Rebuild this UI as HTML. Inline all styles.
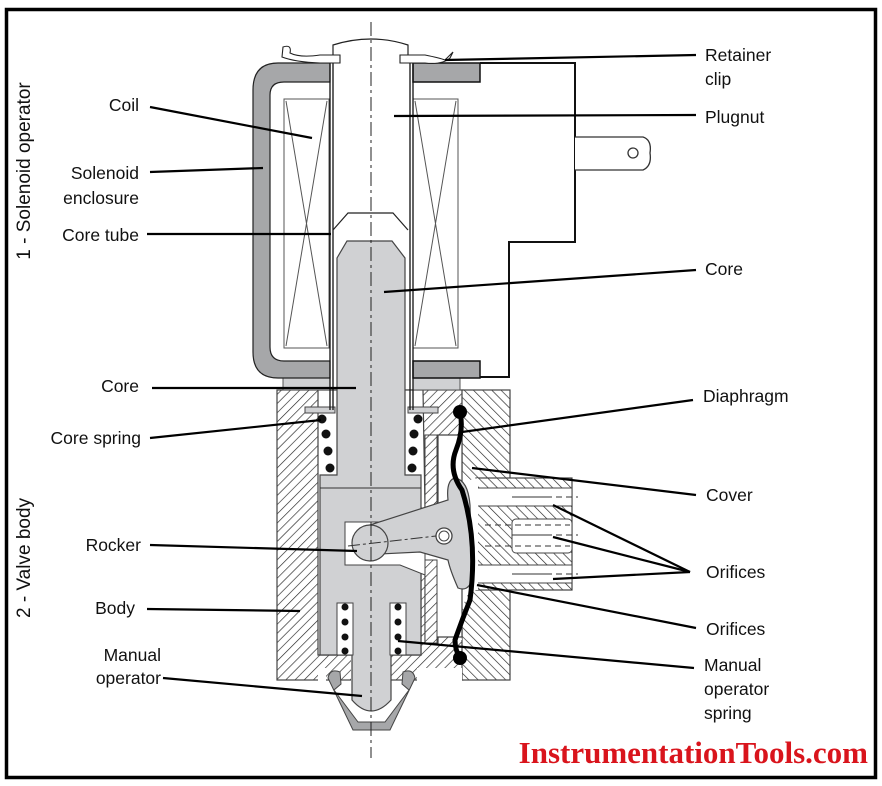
<!DOCTYPE html>
<html><head><meta charset="utf-8"><style>
html,body{margin:0;padding:0;background:#fff}
svg{display:block}
text{font-family:"Liberation Sans",Arial,sans-serif;font-size:17.5px;fill:#111}
</style></head><body>
<svg width="882" height="786" viewBox="0 0 882 786" xmlns="http://www.w3.org/2000/svg">
<defs>
<pattern id="h" patternUnits="userSpaceOnUse" width="6.5" height="6.5" patternTransform="rotate(45)">
<rect width="7" height="7" fill="#fff"/><line x1="0" y1="0" x2="0" y2="7" stroke="#222" stroke-width="1.3"/>
</pattern>
<pattern id="h2" patternUnits="userSpaceOnUse" width="6.5" height="6.5" patternTransform="rotate(-45)">
<rect width="7" height="7" fill="#fff"/><line x1="0" y1="0" x2="0" y2="7" stroke="#222" stroke-width="1.3"/>
</pattern>
</defs>
<rect x="0" y="0" width="882" height="786" fill="#fff"/>
<rect x="6.5" y="9.5" width="869" height="768" fill="none" stroke="#000" stroke-width="3.5"/>

<rect x="277" y="390" width="186" height="290" fill="url(#h)" stroke="#444" stroke-width="1.2"/>
<rect x="462" y="390" width="48" height="290" fill="url(#h2)" stroke="#444" stroke-width="1.2"/>
<rect x="476" y="478" width="96" height="112" fill="url(#h2)" stroke="#444" stroke-width="1.2"/>
<rect x="476" y="488" width="96" height="18" fill="#fff" stroke="#444"/>
<rect x="512" y="519" width="60" height="34" rx="4" fill="#fff" stroke="#444"/>
<rect x="476" y="565" width="96" height="18" fill="#fff" stroke="#444"/>
<g stroke="#333" stroke-width="1">
<line x1="512" y1="497" x2="552" y2="497"/><line x1="556" y1="497" x2="578" y2="497" stroke-dasharray="6 4"/>
<line x1="512" y1="535" x2="552" y2="535"/><line x1="556" y1="535" x2="578" y2="535" stroke-dasharray="6 4"/>
<line x1="512" y1="574" x2="552" y2="574"/><line x1="556" y1="574" x2="578" y2="574" stroke-dasharray="6 4"/>
<line x1="485" y1="525" x2="570" y2="525" stroke-dasharray="6 4"/>
<line x1="485" y1="546" x2="570" y2="546" stroke-dasharray="6 4"/>
</g>
<path d="M462 440 Q455 470 470 480 L478 478 L478 590 L470 590 Q458 610 462 640 L458 640 L458 440 Z" fill="#fff"/>
<path d="M318 390 L318 655 L421 655 L421 560 L425 560 L425 643 L438 643 L438 637 L462 637 L462 435 L438 435 L438 508 L425 508 L423 390 Z" fill="#fff" stroke="#444" stroke-width="1.2"/>
<rect x="425" y="435" width="12" height="73" fill="url(#h)" stroke="#444"/>
<rect x="425" y="560" width="12" height="83" fill="url(#h)" stroke="#444"/>
<rect x="351" y="655" width="40" height="26" fill="#fff"/>
<rect x="318" y="668" width="8" height="13" fill="#fff"/>
<rect x="417" y="668" width="45" height="13" fill="#fff"/>
<rect x="305" y="407" width="30" height="6" fill="#d0d1d3" stroke="#444"/>
<rect x="408" y="407" width="30" height="6" fill="#d0d1d3" stroke="#444"/>

<rect x="283" y="377" width="47" height="13" fill="#d0d1d3" stroke="#555"/>
<rect x="413" y="377" width="47" height="13" fill="#d0d1d3" stroke="#555"/>

<path d="M330 63 L278 63 Q253 63 253 90 L253 352 Q253 378 278 378 L330 378 L330 361 L284 361 Q270 361 270 347 L270 95 Q270 82 284 82 L330 82 Z" fill="#a6a7a9" stroke="#222" stroke-width="1.2"/>
<rect x="413" y="63" width="67" height="19" fill="#a6a7a9" stroke="#111" stroke-width="1.5"/>
<rect x="413" y="361" width="67" height="17" fill="#a6a7a9" stroke="#111" stroke-width="1.5"/>
<path d="M480 63 L575 63 L575 242 L509 242 L509 377 L480 377" fill="none" stroke="#111" stroke-width="2"/>
<path d="M575 137 L643 137 Q652 140 650 153 Q652 166 643 170 L575 170" fill="#fff" stroke="#333" stroke-width="1.3"/>
<circle cx="633" cy="153" r="5" fill="#fff" stroke="#333" stroke-width="1.3"/>

<g stroke="#555" stroke-width="1" fill="none">
<rect x="284" y="99" width="45" height="249"/>
<rect x="413" y="99" width="45" height="249"/>
<line x1="286" y1="101" x2="327" y2="346"/><line x1="327" y1="101" x2="286" y2="346"/>
<line x1="415" y1="101" x2="456" y2="346"/><line x1="456" y1="101" x2="415" y2="346"/>
</g>
<g stroke="#111" stroke-width="1.3">
<line x1="330" y1="63" x2="330" y2="410"/><line x1="333" y1="63" x2="333" y2="410"/>
<line x1="410" y1="63" x2="410" y2="410"/><line x1="413" y1="63" x2="413" y2="410"/>
</g>
<path d="M333 63 L333 45 Q371 33 408 45 L408 63" fill="#fff" stroke="#222" stroke-width="1.2"/>
<path d="M333 230 L348 213 L393 213 L408 230" fill="none" stroke="#222" stroke-width="1.2"/>
<path d="M283 47 Q292 44 290 53 Q300 58 320 55 L340 55 L340 63 L320 63 Q295 62 282 57 Z" fill="#fff" stroke="#222" stroke-width="1.1"/>
<path d="M400 55 L425 55 Q440 58 445 60 Q450 55 453 52 L450 58 Q442 65 425 63 L400 63 Z" fill="#fff" stroke="#222" stroke-width="1.1"/>

<path d="M337 258 L347 241 L392 241 L405 258 L405 475 L421 475 L421 655 L391 655 L391 700 Q371 722 352 700 L352 655 L320 655 L320 475 L337 475 Z" fill="#d0d1d3" stroke="#444" stroke-width="1.2"/>
<line x1="320" y1="488" x2="421" y2="488" stroke="#333"/>
<path d="M345 522 L421 522 L421 508 L425 508 L425 575 L400 565 L345 565 Z" fill="#fff" stroke="#444"/>
<rect x="337" y="603" width="16" height="52" fill="#fff" stroke="#444"/>
<rect x="390" y="603" width="16" height="52" fill="#fff" stroke="#444"/>
<path d="M370 525 L448 500 Q446 480 455 478 Q468 480 470 505 L472 580 Q468 592 458 588 Q450 570 448 560 L420 552 L380 554 Z" fill="#d0d1d3" stroke="#444" stroke-width="1.2"/>
<circle cx="370" cy="543" r="18" fill="#d0d1d3" stroke="#444" stroke-width="1.2"/>
<circle cx="444" cy="536" r="8" fill="#fff" stroke="#444" stroke-width="1.3"/>
<circle cx="444" cy="536" r="5" fill="#fff" stroke="#444"/>
<line x1="348" y1="546" x2="436" y2="536" stroke="#333" stroke-dasharray="12 3 3 3"/>
<g fill="#111">
<circle cx="322" cy="419" r="4.5"/><circle cx="326" cy="434" r="4.5"/><circle cx="328" cy="451" r="4.5"/><circle cx="330" cy="468" r="4.5"/>
<circle cx="418" cy="419" r="4.5"/><circle cx="414" cy="434" r="4.5"/><circle cx="413" cy="451" r="4.5"/><circle cx="412" cy="468" r="4.5"/>
<circle cx="345" cy="607" r="3.5"/><circle cx="345" cy="622" r="3.5"/><circle cx="345" cy="637" r="3.5"/><circle cx="345" cy="651" r="3.5"/>
<circle cx="398" cy="607" r="3.5"/><circle cx="398" cy="622" r="3.5"/><circle cx="398" cy="637" r="3.5"/><circle cx="398" cy="651" r="3.5"/>
</g>
<path d="M328 678 Q330 668 340 672 L341 684 L334 690 L358 722 L385 722 L409 690 L402 684 L403 672 Q413 668 415 678 L390 730 L353 730 Z" fill="#a6a7a9" stroke="#444"/>
<path d="M460 412 Q464 430 456 450 Q448 470 462 490 Q478 540 470 600 Q462 620 455 640 Q455 650 460 658" fill="none" stroke="#000" stroke-width="5" stroke-linecap="round"/>
<circle cx="460" cy="412" r="7" fill="#000"/><circle cx="460" cy="658" r="7" fill="#000"/>

<line x1="371" y1="22" x2="371" y2="758" stroke="#222" stroke-width="1" stroke-dasharray="14 4 3 4"/>

<g stroke="#000" stroke-width="2.2">
<line x1="150" y1="107" x2="312" y2="138"/>
<line x1="150" y1="172" x2="263" y2="168"/>
<line x1="147" y1="234" x2="331" y2="234"/>
<line x1="152" y1="388" x2="356" y2="388"/>
<line x1="150" y1="438" x2="321" y2="420"/>
<line x1="150" y1="545" x2="357" y2="551"/>
<line x1="147" y1="609" x2="300" y2="611"/>
<line x1="163" y1="678" x2="362" y2="696"/>
<line x1="696" y1="55" x2="445" y2="60"/>
<line x1="696" y1="115" x2="394" y2="116"/>
<line x1="696" y1="270" x2="384" y2="292"/>
<line x1="693" y1="400" x2="462" y2="432"/>
<line x1="696" y1="495" x2="472" y2="468"/>
<line x1="690" y1="572" x2="553" y2="505"/>
<line x1="690" y1="572" x2="553" y2="537"/>
<line x1="690" y1="572" x2="553" y2="579"/>
<line x1="696" y1="628" x2="477" y2="585"/>
<line x1="694" y1="668" x2="398" y2="641"/>
</g>

<g text-anchor="end">
<text x="139" y="111">Coil</text>
<text x="139" y="179">Solenoid</text>
<text x="139" y="204">enclosure</text>
<text x="139" y="241">Core tube</text>
<text x="139" y="392">Core</text>
<text x="141" y="444">Core spring</text>
<text x="141" y="551">Rocker</text>
<text x="135" y="614">Body</text>
<text x="161" y="661">Manual</text>
<text x="161" y="684">operator</text>
</g>
<text x="705" y="61">Retainer</text>
<text x="705" y="85">clip</text>
<text x="705" y="123">Plugnut</text>
<text x="705" y="275">Core</text>
<text x="703" y="402">Diaphragm</text>
<text x="706" y="501">Cover</text>
<text x="706" y="578">Orifices</text>
<text x="706" y="635">Orifices</text>
<text x="704" y="671">Manual</text>
<text x="704" y="695">operator</text>
<text x="704" y="719">spring</text>
<text transform="translate(30,171) rotate(-90)" text-anchor="middle" style="font-size:19px">1 - Solenoid operator</text>
<text transform="translate(30,558) rotate(-90)" text-anchor="middle" style="font-size:19px">2 - Valve body</text>

<text x="868" y="763" text-anchor="end" style="font-family:'Liberation Serif',serif;font-weight:bold;font-size:31px;fill:#d9141c">InstrumentationTools.com</text>
</svg>
</body></html>
